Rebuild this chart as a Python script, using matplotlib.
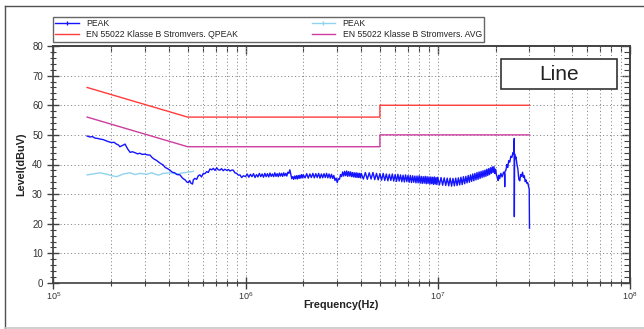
import matplotlib
matplotlib.use("Agg")
import matplotlib.pyplot as plt
from matplotlib.lines import Line2D
from matplotlib.patches import Rectangle
from matplotlib.ticker import FixedLocator, FixedFormatter, NullFormatter
import numpy as np

plt.rcParams['font.family'] = ['Liberation Sans', 'DejaVu Sans']
plt.rcParams['mathtext.fontset'] = 'custom'
plt.rcParams['mathtext.rm'] = 'Liberation Sans'
plt.rcParams['mathtext.default'] = 'regular'

# ---------------- data (frequencies in MHz, levels in dBuV) ----------------
peak_freq_mhz = [
    0.150, 0.155, 0.160, 0.165, 0.170, 0.175, 0.182, 0.190, 0.196, 0.201,
    0.207, 0.213, 0.218, 0.222, 0.227, 0.232, 0.236, 0.244, 0.251, 0.258,
    0.266, 0.274, 0.282, 0.290, 0.300, 0.310, 0.318, 0.326, 0.335, 0.344,
    0.352, 0.362, 0.372, 0.382, 0.393, 0.404, 0.416, 0.428, 0.440, 0.456,
    0.470, 0.485, 0.497, 0.504, 0.512, 0.520, 0.530, 0.535, 0.545, 0.557,
    0.568, 0.579, 0.590, 0.603, 0.615, 0.628, 0.640, 0.653, 0.667, 0.680,
    0.694, 0.708, 0.722, 0.736, 0.750, 0.765, 0.780, 0.800, 0.815, 0.830,
    0.847, 0.863, 0.880, 0.900, 0.917, 0.935, 0.955, 0.975, 1.000,
    1.02, 1.04, 1.06, 1.08, 1.10, 1.12, 1.14, 1.16, 1.18, 1.20,
    1.22, 1.24, 1.26, 1.28, 1.30, 1.32, 1.34, 1.36, 1.38, 1.40,
    1.42, 1.44, 1.46, 1.48, 1.50, 1.52, 1.54, 1.56, 1.58, 1.60,
    1.62, 1.64, 1.66, 1.68, 1.70, 1.72, 1.74, 1.76, 1.78, 1.80,
    1.82, 1.84, 1.86, 1.88, 1.90, 1.92, 1.94, 1.96, 1.98, 2.00,
    2.04, 2.08, 2.12, 2.16, 2.20, 2.24, 2.28, 2.32, 2.36, 2.40,
    2.44, 2.48, 2.52, 2.56, 2.60, 2.64, 2.68, 2.72, 2.76, 2.80,
    2.84, 2.88, 2.92, 2.96, 3.00, 3.04, 3.08, 3.12, 3.16, 3.20,
    3.24, 3.28, 3.32, 3.36, 3.40, 3.44, 3.48, 3.52, 3.56, 3.60,
    3.64, 3.68, 3.72, 3.76, 3.80, 3.84, 3.88, 3.92, 3.96, 4.00,
    4.1, 4.2, 4.3, 4.4, 4.5, 4.6, 4.7, 4.8, 4.9, 5.0,
    5.1, 5.2, 5.3, 5.4, 5.5, 5.6, 5.7, 5.8, 5.9, 6.0,
    6.1, 6.2, 6.3, 6.4, 6.5, 6.6, 6.7, 6.8, 6.9, 7.0,
    7.1, 7.2, 7.3, 7.4, 7.5, 7.6, 7.7, 7.8, 7.9, 8.0,
    8.1, 8.2, 8.3, 8.4, 8.5, 8.6, 8.7, 8.8, 8.9, 9.0,
    9.1, 9.2, 9.3, 9.4, 9.5, 9.6, 9.7, 9.8, 9.9, 10.0,
    10.2, 10.4, 10.6, 10.8, 11.0, 11.2, 11.4, 11.6, 11.8, 12.0,
    12.2, 12.4, 12.6, 12.8, 13.0, 13.2, 13.4, 13.6, 13.8, 14.0,
    14.2, 14.4, 14.6, 14.8, 15.0, 15.2, 15.4, 15.6, 15.8, 16.0,
    16.2, 16.4, 16.6, 16.8, 17.0, 17.2, 17.4, 17.6, 17.8, 18.0,
    18.2, 18.4, 18.6, 18.8, 19.0, 19.2, 19.4, 19.6, 19.8, 20.0,
    20.2, 20.4, 20.6, 20.8, 21.0, 21.3, 21.6, 22.0, 22.25, 22.3,
    22.35, 22.6, 22.9, 23.1, 23.4, 23.7, 24.0, 24.3, 24.6, 24.8,
    25.0, 25.02, 25.1, 25.3, 25.5, 25.8, 26.1, 26.4, 26.7, 27.0,
    27.3, 27.6, 27.9, 28.2, 28.5, 28.8, 29.1, 29.4, 29.7, 29.9,
    30.0,
]
peak_level = [
    49.6, 49.3, 49.4, 48.9, 48.8, 48.6, 48.4, 47.9, 47.6, 47.4,
    47.5, 46.9, 46.6, 46.0, 46.3, 46.6, 46.9, 45.2, 44.1, 44.3,
    44.0, 43.6, 43.8, 43.4, 43.5, 43.2, 43.2, 42.4, 41.8, 41.4,
    40.9, 40.3, 39.9, 39.0, 38.6, 38.1, 37.4, 37.2, 36.6, 36.5,
    35.4, 34.8, 34.0, 33.9, 34.6, 33.7, 33.4, 34.8, 35.3, 35.0,
    36.2, 36.5, 35.8, 37.0, 36.9, 37.6, 37.3, 38.5, 38.2, 38.7,
    38.0, 38.9, 38.2, 38.1, 38.6, 37.9, 38.4, 38.0, 38.3, 37.8,
    38.1, 38.1, 37.2, 37.0, 36.4, 36.5, 35.6, 36.2, 35.9,
    36.8, 35.7, 36.7, 35.9, 36.9, 35.6, 36.6, 35.8, 37.0, 35.9,
    36.8, 35.7, 37.0, 35.9, 36.9, 35.8, 37.1, 36.0, 36.8, 35.9,
    37.2, 36.0, 36.9, 35.9, 37.1, 36.1, 37.0, 36.0, 37.2, 36.2,
    37.0, 36.1, 37.4, 37.0, 38.2, 36.6, 35.2, 35.9, 35.0, 36.1,
    35.2, 36.2, 35.1, 36.3, 35.3, 36.4, 35.4, 36.6, 35.5, 36.5,
    35.5, 36.9, 35.4, 36.8, 35.6, 37.0, 35.5, 36.9, 35.6, 37.0,
    35.4, 36.8, 35.5, 36.9, 35.6, 37.0, 35.5, 36.8, 35.4, 36.7,
    35.3, 36.3, 34.6, 35.4, 33.9, 35.2, 35.0, 36.6, 35.9, 37.5,
    36.1, 37.7, 36.2, 37.8, 36.0, 37.6, 36.1, 37.5, 35.9, 37.3,
    35.8, 37.2, 35.7, 37.2, 35.6, 37.1, 35.6, 37.0, 35.5, 37.0,
    35.1, 37.3, 35.0, 37.2, 35.1, 37.3, 34.9, 37.0, 34.8, 36.9,
    34.7, 37.0, 34.6, 36.8, 34.5, 36.7, 34.6, 36.8, 34.4, 36.6,
    34.3, 36.7, 34.4, 36.5, 34.2, 36.4, 34.1, 36.5, 34.2, 36.3,
    34.0, 36.3, 33.9, 36.2, 34.0, 36.1, 33.8, 36.1, 33.8, 36.2,
    33.7, 36.0, 33.6, 35.9, 33.7, 36.0, 33.5, 35.9, 33.6, 35.8,
    33.4, 35.8, 33.5, 35.7, 33.3, 35.8, 33.4, 35.6, 33.2, 35.7,
    33.1, 35.6, 33.0, 35.5, 32.9, 35.4, 32.8, 35.4, 32.7, 35.3,
    32.8, 35.4, 32.9, 35.5, 33.1, 35.7, 33.2, 35.9, 33.5, 36.0,
    33.8, 36.3, 34.0, 36.5, 34.3, 36.8, 34.5, 37.0, 34.8, 37.3,
    35.0, 37.5, 35.3, 37.7, 35.6, 37.9, 35.8, 38.1, 36.0, 38.4,
    36.3, 38.6, 36.6, 38.9, 37.0, 39.2, 37.3, 39.3, 37.0, 38.4,
    36.4, 35.8, 34.6, 36.4, 35.2, 37.0, 35.8, 37.4, 36.8, 32.5,
    37.6, 38.0, 40.0, 39.0, 41.3, 40.8, 42.8, 42.4, 44.0, 43.4,
    48.8, 22.4, 43.6, 42.0, 42.6, 40.2, 38.5, 35.0, 34.5, 36.6,
    36.0, 37.4, 35.6, 36.2, 34.2, 34.8, 33.6, 33.8, 32.4, 31.8,
    18.5,
]

peak2_freq_mhz = [0.150, 0.161, 0.175, 0.190, 0.205, 0.214, 0.231, 0.251, 0.266,
                  0.282, 0.306, 0.325, 0.352, 0.373, 0.405, 0.438, 0.474, 0.514, 0.535]
peak2_level = [36.5, 36.8, 37.2, 36.7, 36.1, 35.9, 36.8, 37.2, 36.6,
               37.0, 36.7, 37.2, 36.4, 37.0, 37.2, 36.8, 37.2, 37.5, 37.7]

limit_freq_mhz = [0.15, 0.5, 0.5, 5.0, 5.0, 30.0]
qpeak_limit = [66, 56, 56, 56, 60, 60]
avg_limit = [56, 46, 46, 46, 50, 50]

legend_labels = ["PEAK", "EN 55022 Klasse B Stromvers. QPEAK",
                 "PEAK", "EN 55022 Klasse B Stromvers. AVG"]
x_tick_labels = [r"10$^{5}$", r"10$^{6}$", r"10$^{7}$", r"10$^{8}$"]
y_ticks = [0, 10, 20, 30, 40, 50, 60, 70, 80]

# ---------------- figure ----------------
W, H = 644, 329
fig = plt.figure(figsize=(W / 100, H / 100), dpi=100)
fig.patch.set_facecolor('white')

def fx(px):
    return px / W

def fy(py):
    return 1 - py / H

ax_l, ax_r, ax_t, ax_b = 53.3, 630.0, 46.0, 283.0
ax = fig.add_axes([fx(ax_l), fy(ax_b), (ax_r - ax_l) / W, (ax_b - ax_t) / H])

c_peak = '#1414ff'
c_peak2 = '#8fd3ef'
c_qp = '#ff3b3b'
c_avg = '#cc3d9e'

hz = 1e6
ax.plot(np.array(peak2_freq_mhz) * hz, peak2_level, color=c_peak2, lw=1.0, zorder=3)
ax.plot(np.array(peak_freq_mhz) * hz, peak_level, color=c_peak, lw=1.0, zorder=4)
ax.plot(np.array(limit_freq_mhz) * hz, qpeak_limit, color=c_qp, lw=1.0, zorder=3)
ax.plot(np.array(limit_freq_mhz) * hz, avg_limit, color=c_avg, lw=1.0, zorder=3)

ax.set_xscale('log')
ax.set_xlim(1e5, 1e8)
ax.set_ylim(0, 80)

spine_c = '#404040'
for s in ax.spines.values():
    s.set_color(spine_c)
    s.set_linewidth(1.2)

majors = [1e5, 1e6, 1e7, 1e8]
minors = [m * 10 ** e for e in (5, 6, 7) for m in range(2, 10)]
ax.xaxis.set_major_locator(FixedLocator(majors))
ax.xaxis.set_major_formatter(FixedFormatter(x_tick_labels))
ax.xaxis.set_minor_locator(FixedLocator(minors))
ax.xaxis.set_minor_formatter(NullFormatter())
ax.yaxis.set_major_locator(FixedLocator(y_ticks))
ax.yaxis.set_minor_locator(FixedLocator(list(range(0, 81, 2))))

ax.tick_params(axis='x', which='major', direction='inout', length=8, width=1.0,
               color=spine_c, labelsize=6.5, labelcolor='#333333', pad=1.5)
ax.tick_params(axis='x', which='minor', direction='inout', length=5, width=0.8,
               color=spine_c)
ax.tick_params(axis='y', which='major', direction='inout', length=8, width=1.0,
               color=spine_c, labelsize=7, labelcolor='#333333', pad=3.5)
ax.tick_params(axis='y', which='minor', direction='inout', length=4, width=0.8,
               color=spine_c)

secx = ax.secondary_xaxis('top')
secx.xaxis.set_major_locator(FixedLocator(majors))
secx.xaxis.set_minor_locator(FixedLocator(minors))
secx.xaxis.set_major_formatter(NullFormatter())
secx.xaxis.set_minor_formatter(NullFormatter())
secx.tick_params(which='major', direction='in', length=6, width=1.0, color=spine_c)
secx.tick_params(which='minor', direction='in', length=4, width=0.8, color=spine_c)
secx.spines['top'].set_color(spine_c)
secx.spines['top'].set_linewidth(1.2)

secy = ax.secondary_yaxis('right')
secy.yaxis.set_major_locator(FixedLocator(y_ticks))
secy.yaxis.set_minor_locator(FixedLocator(list(range(0, 81, 2))))
secy.yaxis.set_major_formatter(NullFormatter())
secy.yaxis.set_minor_formatter(NullFormatter())
secy.tick_params(which='major', direction='in', length=6, width=1.0, color=spine_c)
secy.tick_params(which='minor', direction='in', length=4, width=0.8, color=spine_c)
secy.spines['right'].set_color(spine_c)
secy.spines['right'].set_linewidth(1.2)

grid_kw = dict(color='#8c8c8c', linestyle=(0, (1.2, 2.4)), linewidth=0.7)
ax.grid(True, axis='x', which='both', **grid_kw)
ax.grid(True, axis='y', which='major', **grid_kw)
ax.set_axisbelow(True)

fig.text(fx(341), fy(305.5), "Frequency(Hz)", ha='center', va='center',
         fontsize=7.8, fontweight='bold', color='#222222')
fig.text(fx(21), fy(164), "Level(dBuV)", ha='center', va='center', rotation=90,
         fontsize=7.8, fontweight='bold', color='#222222')

fig.add_artist(Rectangle((fx(501), fy(89.3)), (617.3 - 501) / W, (89.3 - 59) / H,
                         transform=fig.transFigure, facecolor='white',
                         edgecolor='#333333', linewidth=1.2, zorder=10))
fig.text(fx(559), fy(74.5), "Line", ha='center', va='center', fontsize=15,
         color='#222222', zorder=11)

handles = [
    Line2D([], [], color=c_peak, lw=1.0, marker='|', markersize=2.5),
    Line2D([], [], color=c_qp, lw=1.0),
    Line2D([], [], color=c_peak2, lw=1.0, marker='|', markersize=2.5),
    Line2D([], [], color=c_avg, lw=1.0),
]
leg_top, leg_bot = 16.7, 41.0
leg = fig.legend(handles, legend_labels, loc='upper left',
                 bbox_to_anchor=(fx(53.3), fy(leg_bot), (484 - 53.3) / W,
                                 (leg_bot - leg_top) / H),
                 mode='expand', ncol=2, borderaxespad=0, fontsize=6.2,
                 frameon=True, fancybox=False, handlelength=2.7,
                 handletextpad=0.9, borderpad=0.25, labelspacing=0.3,
                 columnspacing=1.0, numpoints=1)
leg.get_frame().set_edgecolor('#404040')
leg.get_frame().set_linewidth(1.0)
for t in leg.get_texts():
    t.set_color('#222222')

fig.add_artist(Line2D([fx(5), fx(5)], [fy(6), fy(327.5)], transform=fig.transFigure,
                      color='#505050', lw=1.0))
fig.add_artist(Line2D([fx(5), fx(644)], [fy(6), fy(6)], transform=fig.transFigure,
                      color='#505050', lw=1.0))
fig.add_artist(Line2D([fx(5), fx(644)], [fy(327.5), fy(327.5)], transform=fig.transFigure,
                      color='#c8c8c8', lw=1.2))

fig.savefig("out.png", dpi=100, facecolor='white')
